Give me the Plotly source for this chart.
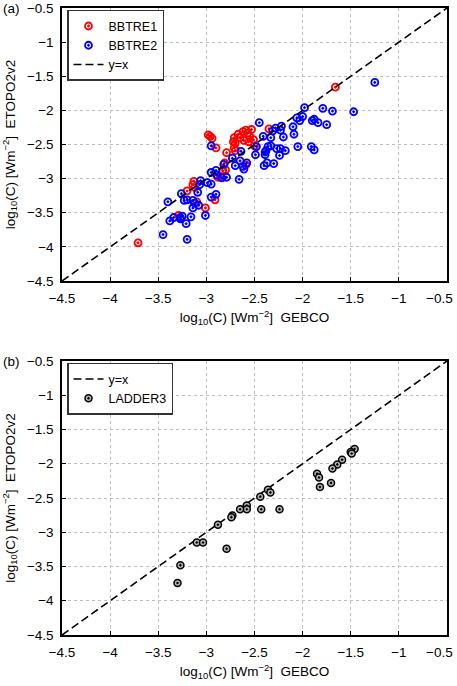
import plotly.graph_objects as go

# panel (a): BBTRE1 / BBTRE2, log10 of conversion rate, GEBCO vs ETOPO2v2
bbtre1_gebco = [-3.71, -1.66, -2.98, -2.96, -2.94, -2.90, -2.79, -2.71, -2.72, -2.70,
                -2.71, -2.70, -2.67, -2.65, -2.62, -2.59, -2.57, -2.61, -2.56, -2.53,
                -2.51, -2.50, -2.55, -2.35, -2.81, -2.83, -2.80, -2.88, -2.85, -3.13,
                -3.14, -3.12, -3.20, -3.10, -3.01, -2.91, -3.29, -2.59]
bbtre1_etopo = [-3.94, -1.66, -2.36, -2.38, -2.41, -2.55, -2.62, -2.40, -2.46, -2.48,
                -2.55, -2.59, -2.35, -2.40, -2.31, -2.29, -2.33, -2.44, -2.46, -2.28,
                -2.43, -2.52, -2.38, -2.27, -2.77, -2.88, -2.87, -2.98, -2.97, -3.04,
                -3.09, -3.13, -3.18, -3.34, -3.43, -3.31, -3.54, -2.80]

bbtre2_gebco = [-1.25, -1.47, -1.69, -1.79, -1.98, -2.00, -2.03, -2.06, -1.90, -1.88,
                -1.84, -1.75, -2.10, -2.09, -2.20, -2.23, -2.22, -2.28, -2.31, -2.33,
                -2.41, -2.45, -2.48, -2.49, -1.91, -1.88, -2.05, -2.18, -2.24, -2.27,
                -2.23, -2.36, -2.38, -2.39, -2.39, -2.37, -2.40, -2.30, -2.33, -2.64,
                -2.73, -2.70, -2.65, -2.62, -2.61, -2.58, -2.66, -2.79, -2.84, -2.82,
                -2.89, -2.90, -2.95, -2.95, -3.06, -3.07, -2.99, -2.95, -3.09, -3.14,
                -3.12, -3.08, -3.14, -3.26, -3.23, -3.20, -2.95, -2.90, -3.01, -3.40,
                -3.38, -3.34, -3.27, -3.25, -3.27, -3.16, -3.21, -3.45, -3.20]
bbtre2_etopo = [-1.59, -2.02, -2.01, -1.97, -1.96, -2.09, -2.15, -2.11, -2.15, -2.13,
                -2.18, -2.21, -2.24, -2.35, -2.39, -2.29, -2.23, -2.26, -2.30, -2.40,
                -2.38, -2.18, -2.53, -2.65, -2.53, -2.58, -2.53, -2.59, -2.66, -2.56,
                -2.56, -2.53, -2.59, -2.65, -2.61, -2.77, -2.81, -2.78, -2.52, -2.60,
                -2.70, -2.81, -2.74, -2.82, -2.86, -2.77, -3.01, -2.98, -2.99, -2.79,
                -2.95, -2.88, -2.91, -2.52, -3.03, -3.09, -3.06, -3.08, -3.20, -3.32,
                -3.36, -3.39, -3.43, -3.22, -3.32, -3.31, -3.27, -3.23, -3.54, -3.34,
                -3.62, -3.57, -3.57, -3.55, -3.59, -3.56, -3.66, -3.82, -3.89]

# panel (b): LADDER3
ladder3_gebco = [-1.46, -1.50, -1.49, -1.59, -1.64, -1.69, -1.85, -1.83, -1.82, -1.705,
                 -2.36, -2.335, -2.44, -2.43, -2.24, -2.58, -2.58, -2.65, -2.73, -2.74,
                 -2.88, -2.79, -3.10, -3.035, -3.27, -3.30]
ladder3_etopo = [-1.785, -1.83, -1.85, -1.94, -2.01, -2.07, -2.145, -2.20, -2.34, -2.28,
                 -2.38, -2.42, -2.48, -2.665, -2.665, -2.61, -2.665, -2.665, -2.755, -2.78,
                 -2.89, -3.24, -3.15, -3.15, -3.48, -3.74]

one_to_one = [-4.5, -0.5]

tick_vals = [-4.5, -4, -3.5, -3, -2.5, -2, -1.5, -1, -0.5]
tick_text = ["\u22124.5", "\u22124", "\u22123.5", "\u22123", "\u22122.5",
             "\u22122", "\u22121.5", "\u22121", "\u22120.5"]
# last x label is written separately (pulled in from the page edge, as in the original)
x_tick_text = tick_text[:-1] + [""]

FONT = "Liberation Sans, Arial, sans-serif"
x_title = "log<sub>10</sub>(C) [Wm<sup>\u22122</sup>]&nbsp;&nbsp;GEBCO"
y_title = "log<sub>10</sub>(C) [Wm<sup>\u22122</sup>]&nbsp;&nbsp;ETOPO2v2"

fig = go.Figure()

ring = dict(size=7, line=dict(width=1.8))

fig.add_trace(go.Scatter(x=bbtre1_gebco, y=bbtre1_etopo, mode="markers", name="BBTRE1",
                         marker=dict(symbol="circle-open-dot", color="#ff0000", **ring),
                         xaxis="x", yaxis="y", legend="legend"))
fig.add_trace(go.Scatter(x=bbtre2_gebco, y=bbtre2_etopo, mode="markers", name="BBTRE2",
                         marker=dict(symbol="circle-open-dot", color="#0000ff", **ring),
                         xaxis="x", yaxis="y", legend="legend"))
fig.add_trace(go.Scatter(x=one_to_one, y=one_to_one, mode="lines", name="y=x",
                         line=dict(color="black", width=1.6, dash="8px,4px"),
                         xaxis="x", yaxis="y", legend="legend"))

fig.add_trace(go.Scatter(x=one_to_one, y=one_to_one, mode="lines", name="y=x",
                         line=dict(color="black", width=1.6, dash="8px,4px"),
                         xaxis="x2", yaxis="y2", legend="legend2"))
fig.add_trace(go.Scatter(x=ladder3_gebco, y=ladder3_etopo, mode="markers", name="LADDER3",
                         marker=dict(symbol="circle-dot", color="#b4b4b4", size=7,
                                     line=dict(color="black", width=1.5)),
                         xaxis="x2", yaxis="y2", legend="legend2"))

axis_style = dict(range=[-4.5, -0.5], tickvals=tick_vals,
                  showgrid=True, gridcolor="#bdbdbd", griddash="dot", gridwidth=1,
                  showline=True, linecolor="black", linewidth=1.5, mirror=True,
                  ticks="inside", ticklen=4, tickcolor="black", zeroline=False,
                  ticklabelstandoff=4, tickfont=dict(size=13.5, color="black"))

legend_style = dict(x=0.013, xanchor="left", yanchor="top", bgcolor="white",
                    bordercolor="#333333", borderwidth=1.5, font=dict(size=12.5, color="black"),
                    tracegroupgap=0, itemwidth=30)


def edge_label(xref, yref):
    # the right-most x tick label, right-aligned a few px past the axis end
    return dict(text=tick_text[-1], x=tick_vals[-1], y=tick_vals[0], xref=xref, yref=yref,
                xanchor="right", yanchor="middle", xshift=8, yshift=-17,
                showarrow=False, font=dict(size=13.5))


fig.update_layout(
    width=457, height=686,
    margin=dict(l=62, r=10, t=8, b=51, autoexpand=False),
    plot_bgcolor="white", paper_bgcolor="white",
    font=dict(family=FONT, size=13.5, color="black"),
    xaxis=dict(domain=[0, 1], anchor="y", automargin=False, ticktext=x_tick_text,
               title=dict(text=x_title, standoff=8, font=dict(size=13.5)), **axis_style),
    yaxis=dict(domain=[0.5646, 1], anchor="x", automargin=False, ticktext=tick_text,
               title=dict(text=y_title, standoff=12, font=dict(size=13.5)), **axis_style),
    xaxis2=dict(domain=[0, 1], anchor="y2", automargin=False, ticktext=x_tick_text,
                title=dict(text=x_title, standoff=8, font=dict(size=13.5)), **axis_style),
    yaxis2=dict(domain=[0, 0.437], anchor="x2", automargin=False, ticktext=tick_text,
                title=dict(text=y_title, standoff=12, font=dict(size=13.5)), **axis_style),
    legend=dict(y=0.997, **legend_style),
    legend2=dict(y=0.434, **legend_style),
    annotations=[
        dict(text="(a)", x=-0.13, y=1.0, xref="paper", yref="paper",
             xanchor="center", yanchor="middle", showarrow=False, font=dict(size=13.5)),
        dict(text="(b)", x=-0.13, y=0.437, xref="paper", yref="paper",
             xanchor="center", yanchor="middle", showarrow=False, font=dict(size=13.5)),
        edge_label("x", "y"),
        edge_label("x2", "y2"),
    ],
)

# page body has a default 8px margin; drop it so the figure sits at the window corner
fig.write_html("out.html", config={"displayModeBar": False},
               post_script="document.body.style.margin='0';")
